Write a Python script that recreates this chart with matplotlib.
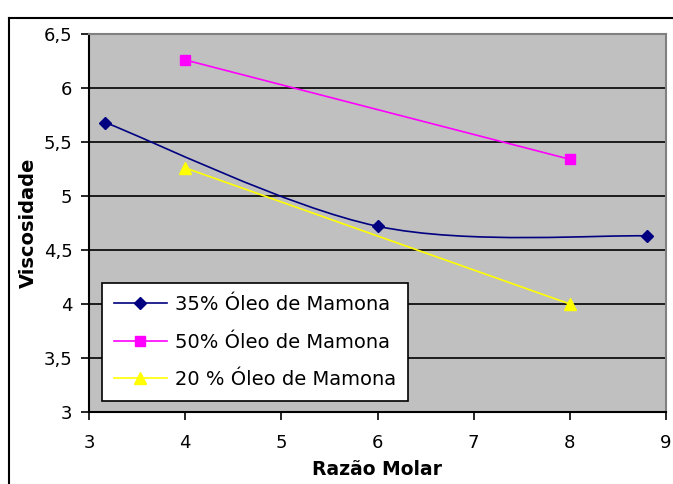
import numpy as np
import matplotlib.pyplot as plt
from matplotlib.path import Path
from matplotlib.patches import PathPatch
from matplotlib.lines import Line2D
from matplotlib.ticker import FuncFormatter

plt.rcParams['font.family'] = ['DejaVu Sans']

# data
x35 = [3.17, 6.0, 8.8]
y35 = [5.68, 4.72, 4.63]
x50 = [4.0, 8.0]
y50 = [6.26, 5.34]
x20 = [4.0, 8.0]
y20 = [5.26, 4.0]
labels = ['35% Óleo de Mamona', '50% Óleo de Mamona', '20 % Óleo de Mamona']


def smooth_path(xs, ys):
    # Excel-like smoothed line: Catmull-Rom turned into cubic Bezier segments
    p = np.column_stack([xs, ys])
    n = len(p)
    verts = [p[0]]
    codes = [Path.MOVETO]
    for i in range(n - 1):
        p0 = p[i - 1] if i > 0 else p[i]
        p1 = p[i]
        p2 = p[i + 1]
        p3 = p[i + 2] if i + 2 < n else p[i + 1]
        c1 = p1 + (p2 - p0) / 6.0
        c2 = p2 - (p3 - p1) / 6.0
        verts += [c1, c2, p2]
        codes += [Path.CURVE4] * 3
    return Path(verts, codes)


fig = plt.figure(figsize=(6.73, 4.84), dpi=100)
ax = fig.add_axes([89 / 673, 1 - 412 / 484, 577 / 673, 378 / 484])
ax.set_facecolor('#C0C0C0')

ax.add_patch(PathPatch(smooth_path(x35, y35), facecolor='none',
                       edgecolor='#000080', lw=1.2, zorder=3))
ax.plot(x35, y35, ls='none', marker='D', ms=6, color='#000080', zorder=4)
ax.plot(x50, y50, color='#FF00FF', lw=1.2, marker='s', ms=6.5, zorder=4)
ax.plot(x20, y20, color='#FFFF00', lw=1.2, marker='^', ms=8, zorder=4)

ax.set_xlim(3, 9)
ax.set_ylim(3, 6.5)
ax.set_xticks(np.arange(3, 9.5, 1))
ax.set_yticks(np.arange(3, 6.75, 0.5))
ax.yaxis.set_major_formatter(FuncFormatter(lambda v, p: ('%g' % v).replace('.', ',')))
ax.grid(axis='y', color='black', lw=1.2)
ax.set_axisbelow(True)
ax.tick_params(labelsize=13, length=5.5, width=1.2, direction='out', colors='black')
ax.tick_params(axis='x', pad=10)
ax.tick_params(axis='y', pad=6.5)
for s in ['top', 'right']:
    ax.spines[s].set_color('#808080')
    ax.spines[s].set_linewidth(1.5)
for s in ['left', 'bottom']:
    ax.spines[s].set_color('black')
    ax.spines[s].set_linewidth(1.5)

ax.set_xlabel('Razão Molar', fontsize=13.5, fontweight='bold', labelpad=6)
ax.set_ylabel('Viscosidade', fontsize=14, fontweight='bold', labelpad=4)

handles = [Line2D([], [], color='#000080', lw=1.2, marker='D', ms=6),
           Line2D([], [], color='#FF00FF', lw=1.2, marker='s', ms=6.5),
           Line2D([], [], color='#FFFF00', lw=1.2, marker='^', ms=8)]
leg = ax.legend(handles, labels, loc='lower left', bbox_to_anchor=(0.0225, 0.03),
                borderaxespad=0, fontsize=14, fancybox=False, framealpha=1,
                edgecolor='black', handlelength=2.75, handletextpad=0.4,
                labelspacing=0.95, borderpad=0.6)
leg.get_frame().set_linewidth(1.2)
leg.set_zorder(5)

# outer chart border (cut off on the right and bottom)
fig.add_artist(Line2D([9 / 673, 9 / 673], [0, 1 - 18 / 484], color='black', lw=1.5))
fig.add_artist(Line2D([9 / 673, 1], [1 - 18 / 484, 1 - 18 / 484], color='black', lw=1.5))

fig.savefig('out.png', dpi=100)
